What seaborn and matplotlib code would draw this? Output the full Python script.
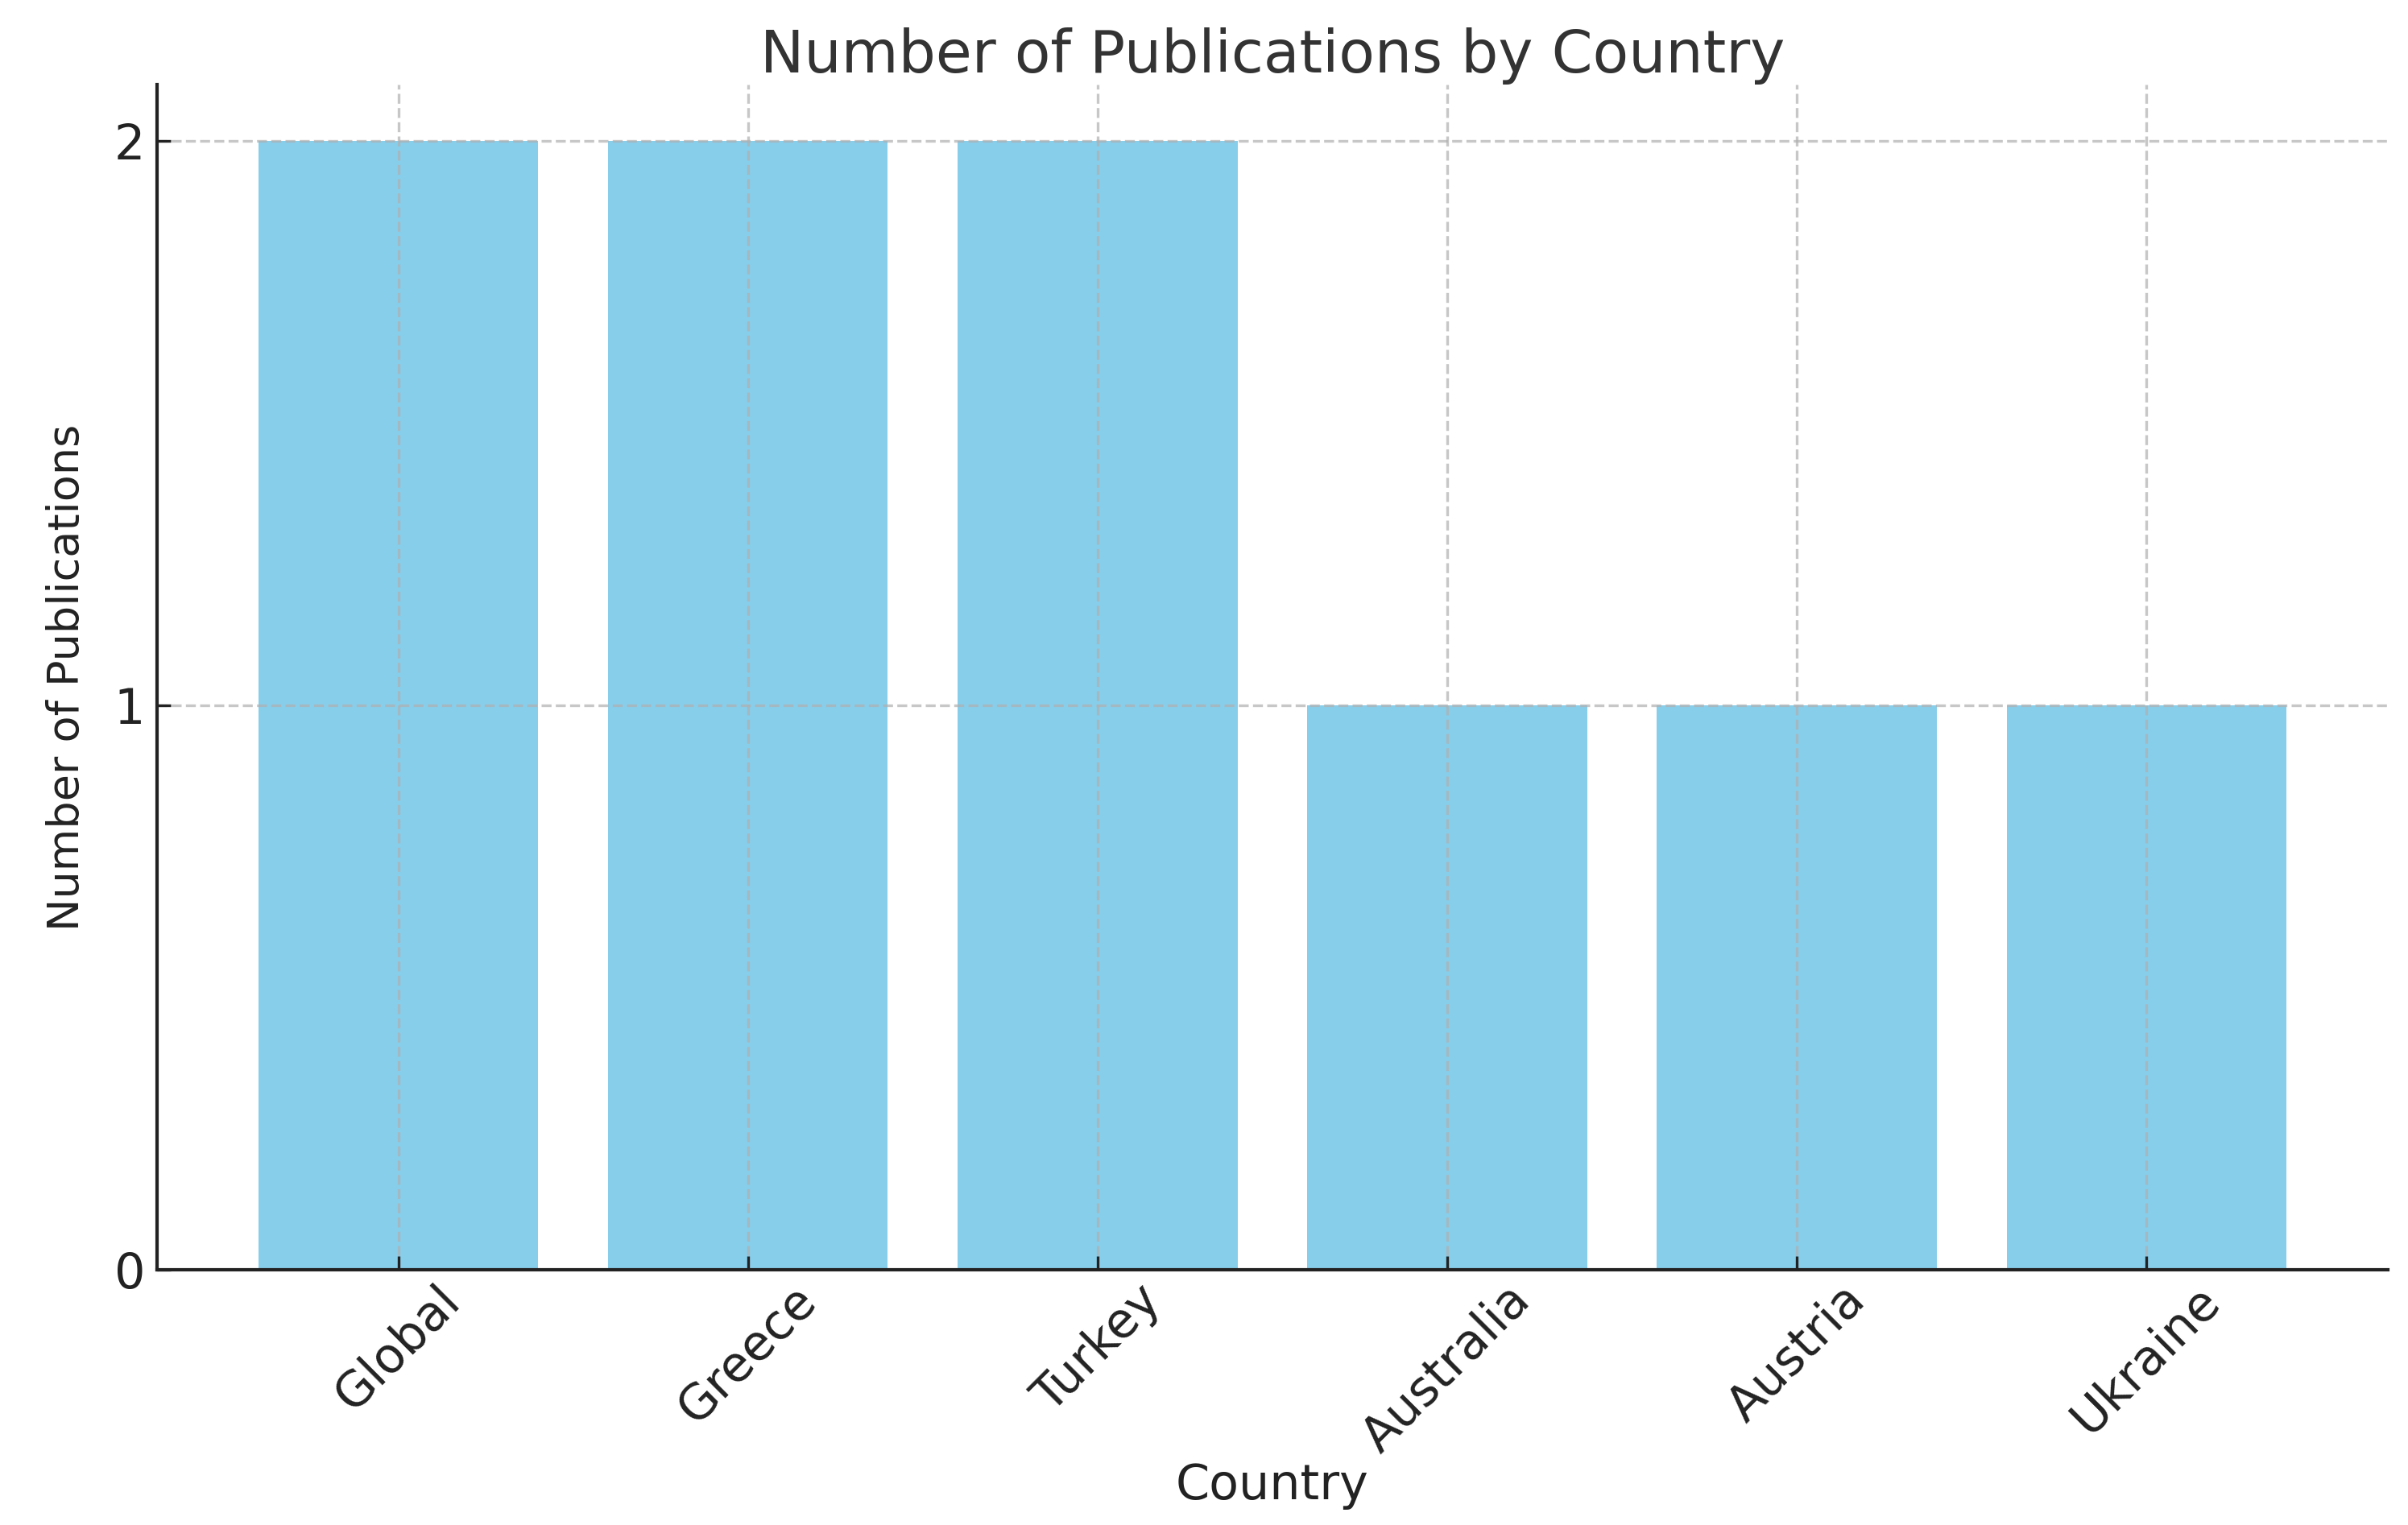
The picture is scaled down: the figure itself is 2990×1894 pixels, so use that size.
import matplotlib
matplotlib.use("Agg")
import matplotlib.pyplot as plt
import seaborn as sns
import pandas as pd

countries = ["Global", "Greece", "Turkey", "Australia", "Austria", "Ukraine"]
publications = [2, 2, 2, 1, 1, 1]
y_ticks = [0, 1, 2]

df = pd.DataFrame({"Country": countries, "Publications": publications})

plt.rcParams["font.family"] = ["DejaVu Sans"]
plt.rcParams["axes.axisbelow"] = "line"

fig = plt.figure(figsize=(2990 / 300, 1894 / 300), dpi=300)
ax = fig.add_axes([0.0652, 0.1674, 0.9264, 0.7772])

sns.barplot(data=df, x="Country", y="Publications", color="#87CEEB",
            saturation=1, width=0.8, ax=ax, errorbar=None)

ax.set_yticks(y_ticks)
ax.set_ylim(0, 2.1)
ax.set_xlim(-0.69, 5.69)
ax.grid(True, linestyle="--", color="#b0b0b0", alpha=0.7, linewidth=0.8)
for s in ["top", "right"]:
    ax.spines[s].set_visible(False)
for s in ["left", "bottom"]:
    ax.spines[s].set_linewidth(1.0)
    ax.spines[s].set_color("#222222")
ax.tick_params(direction="in", length=4, width=0.8, labelsize=14.5, colors="#222222")
ax.tick_params(axis="x", pad=2)
plt.setp(ax.get_xticklabels(), rotation=45)

ax.set_title("Number of Publications by Country", fontsize=17.5, color="#333333", pad=3)
ax.set_xlabel("Country", fontsize=14.5, color="#222222", labelpad=0)
ax.set_ylabel("Number of Publications", fontsize=13, color="#222222", labelpad=8)

fig.savefig("out.png", dpi=300)
